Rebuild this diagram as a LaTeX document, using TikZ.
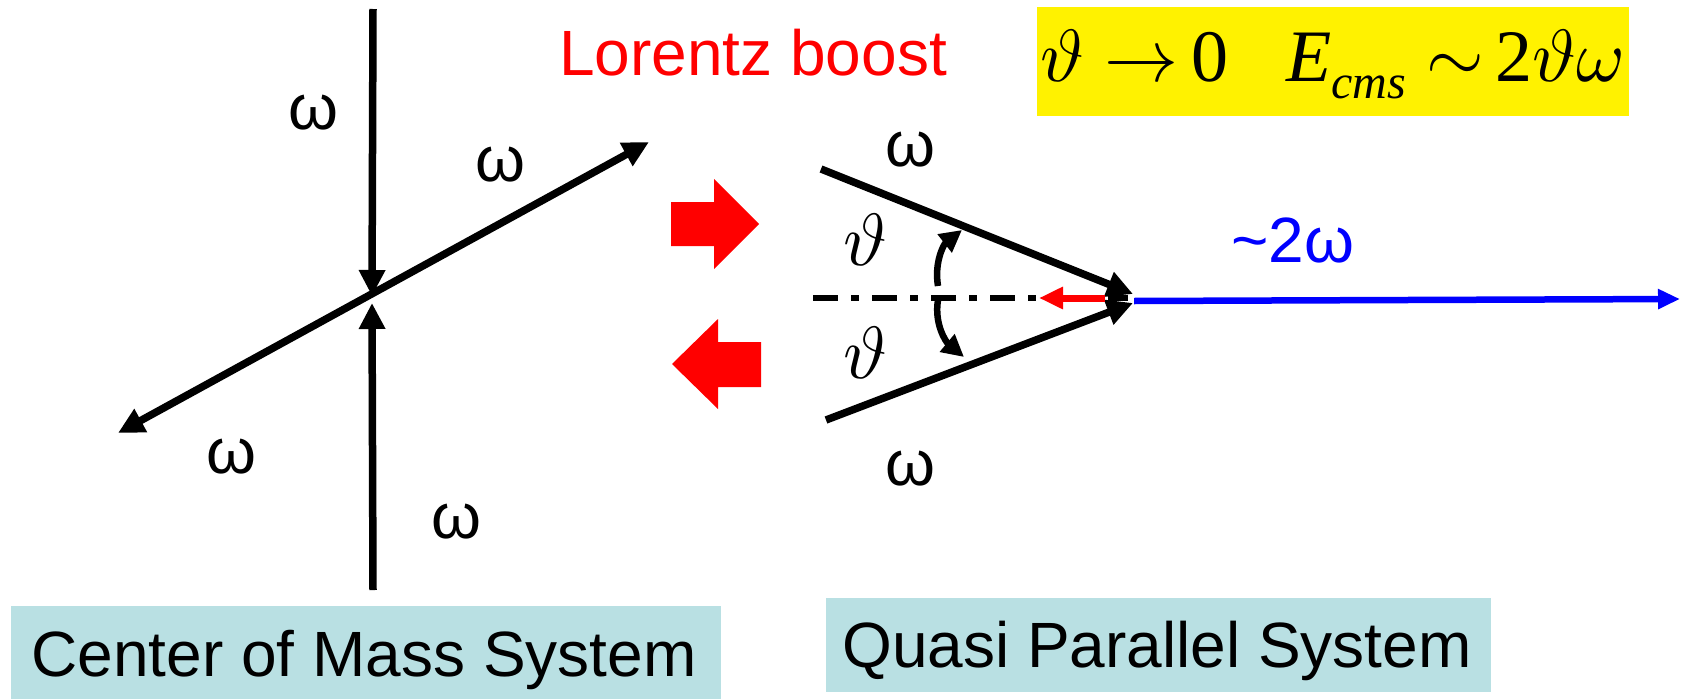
\documentclass[tikz,border=0pt]{standalone}
\usepackage{fontspec}
\setmainfont{Liberation Sans}
\newfontfamily\serif{Liberation Serif}
\usetikzlibrary{arrows.meta}
\definecolor{boxblue}{RGB}{185,224,227}
\newcommand\mymath[1]{\scalebox{7.4}{\fontsize{10}{12}\selectfont$#1$}}
\tikzset{
  bigtxt/.style={inner sep=0pt, font=\fontsize{64}{70}\selectfont},
  mathtxt/.style={inner sep=0pt, font=\fontsize{74}{80}\selectfont},
  ray/.style={line width=7.5pt, black, -{Triangle[length=26pt,width=25pt]}},
  biray/.style={line width=7.5pt, black, {Triangle[length=26pt,width=25pt]}-{Triangle[length=26pt,width=25pt]}},
  curvarr/.style={line width=6.5pt, black, -{Triangle[length=22pt,width=22pt]}},
  blockarr/.style={fill=red, draw=none},
  sysbox/.style={fill=boxblue, draw=none, inner sep=0pt}
}
\begin{document}
\begin{tikzpicture}[x=1pt,y=-1pt]
\useasboundingbox (0,0) rectangle (1682,699);

% ---- Center of mass system ----
\coordinate (vtop) at (373,9);
\coordinate (ctrT) at (372,296);
\coordinate (vbot) at (373,590);
\coordinate (ctrB) at (372,303);
\coordinate (dl) at (118,433);
\coordinate (ur) at (649,142);
\draw[ray] (vtop) -- (ctrT);
\draw[ray] (vbot) -- (ctrB);
\draw[biray] (dl) -- (ur);
\node[bigtxt] (w1) at (313,113) {ω};
\node[bigtxt] (w2) at (500,165) {ω};
\node[bigtxt] (w3) at (231,457) {ω};
\node[bigtxt] (w4) at (456,522) {ω};

% ---- Lorentz boost ----
\node[bigtxt, text=red, anchor=base] (lb) at (753,75) {Lorentz boost};
\draw[blockarr] (671,202) -- (714,202) -- (714,179) -- (759,224) -- (714,269) -- (714,246) -- (671,246) -- cycle;
\draw[blockarr] (761,342) -- (718,342) -- (718,319) -- (672,364) -- (718,409) -- (718,387) -- (761,387) -- cycle;

% ---- Quasi parallel system ----
\coordinate (ua) at (821,169);
\coordinate (tipU) at (1133,294);
\coordinate (la) at (826,420);
\coordinate (tipL) at (1133,303);
\coordinate (dd1) at (813,298);
\coordinate (dd2) at (1128,298);
\draw[line width=6pt, dash pattern=on 25pt off 13pt on 8pt off 13pt] (dd1) -- (dd2);
\draw[ray] (ua) -- (tipU);
\draw[ray] (la) -- (tipL);
\coordinate (rs) at (1105,298);
\coordinate (re) at (1039,298);
\draw[line width=7pt, red, -{Triangle[length=24pt,width=21pt]}] (rs) -- (re);
\coordinate (bs) at (1134,301);
\coordinate (be) at (1680,299);
\draw[line width=6.5pt, blue, -{Triangle[length=22pt,width=19pt]}] (bs) -- (be);
\coordinate (cu1) at (938,286);
\coordinate (cu2) at (962,230);
\coordinate (cl1) at (938,300);
\coordinate (cl2) at (964,357);
\draw[curvarr] (cu1) .. controls (934,262) and (944,244) .. (cu2);
\draw[curvarr] (cl1) .. controls (934,324) and (946,342) .. (cl2);
\node[mathtxt] (t1) at (865,240) {\mymath{\vartheta}};
\node[mathtxt] (t2) at (865,353) {\mymath{\vartheta}};
\node[bigtxt] (w5) at (910,150) {ω};
\node[bigtxt] (w6) at (910,469) {ω};
\node[bigtxt, text=blue, anchor=base] (w2w) at (1293,262) {\textasciitilde 2ω};

% ---- formula box ----
\node[fill=yellow, minimum width=592pt, minimum height=109pt, inner sep=0pt] (ybox) at (1333,61.5) {};
\node[mathtxt, anchor=base] (formula) at (1333,81) {\serif\mymath{\vartheta\rightarrow}\,0\hspace{58pt}{\itshape E}\raisebox{-17pt}{\fontsize{48}{50}\selectfont\itshape cms}\hspace{20pt}\mymath{\sim}\,2\mymath{\vartheta\omega}};

% ---- system labels ----
\node[sysbox, minimum width=710pt, minimum height=93pt] (cmsbox) at (366,652.5) {};
\node[bigtxt, anchor=base] (cmstxt) at (364,676) {Center of Mass System};
\node[sysbox, minimum width=665pt, minimum height=94pt] (qpbox) at (1158.5,645) {};
\node[bigtxt, anchor=base] (qptxt) at (1157,667) {Quasi Parallel System};
\end{tikzpicture}
\end{document}
